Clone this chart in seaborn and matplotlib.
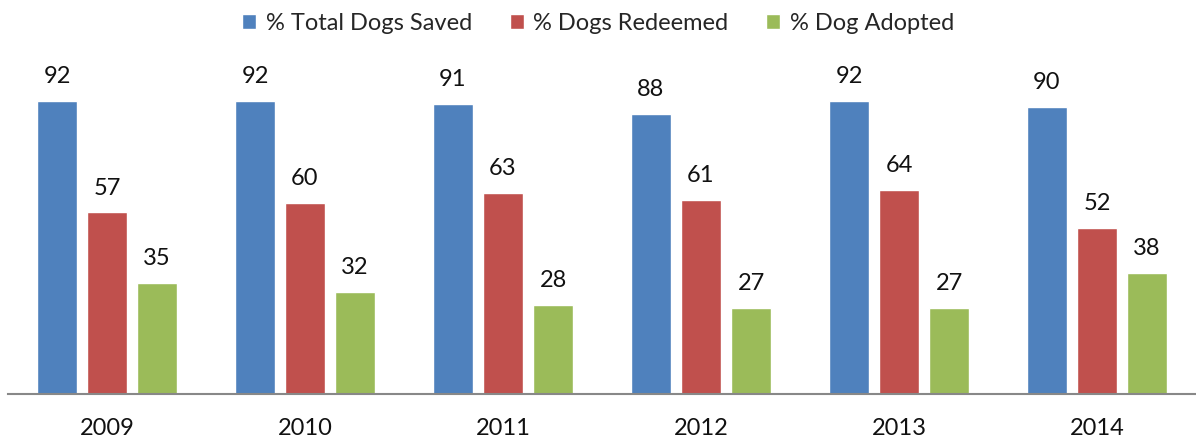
import numpy as np
import pandas as pd
import seaborn as sns
import matplotlib.pyplot as plt
from matplotlib.patches import Patch

years = ["2009", "2010", "2011", "2012", "2013", "2014"]
series = ["% Total Dogs Saved", "% Dogs Redeemed", "% Dog Adopted"]
saved = [92, 92, 91, 88, 92, 90]
redeemed = [57, 60, 63, 61, 64, 52]
adopted = [35, 32, 28, 27, 27, 38]
colors = ["#4F81BD", "#C0504D", "#9BBB59"]

df = pd.DataFrame({
    "year": years * 3,
    "series": [series[0]] * 6 + [series[1]] * 6 + [series[2]] * 6,
    "value": saved + redeemed + adopted,
})

sns.set_style("white")
plt.rcParams["font.family"] = ["Lato", "DejaVu Sans"]

fig = plt.figure(figsize=(11.96, 4.4), dpi=100)
# axes from x=8 to 1196 px, y baseline at 394 px
ax = fig.add_axes([8 / 1196, (440 - 394) / 440, 1188 / 1196, 334 / 440])

sns.barplot(data=df, x="year", y="value", hue="series", palette=colors,
            width=0.758, gap=0.2, saturation=1, ax=ax, legend=False)

ax.set_ylim(0, 334 / 3.185)
ax.set_xlim(-0.5, 5.5)
for c in ax.containers:
    ax.bar_label(c, padding=10, fontsize=17, color="#111111")

ax.set_xlabel("")
ax.set_ylabel("")
ax.set_yticks([])
ax.tick_params(axis="x", length=0, labelsize=17, pad=17, colors="#111111")
for s in ["top", "right", "left"]:
    ax.spines[s].set_visible(False)
ax.spines["bottom"].set_color("#888888")
ax.spines["bottom"].set_linewidth(1.5)

handles = [Patch(facecolor=c, label=s) for c, s in zip(colors, series)]
fig.legend(handles=handles, loc="center", bbox_to_anchor=(0.5, 1 - 23 / 440),
           ncol=3, frameon=False, fontsize=17, handlelength=0.6,
           handleheight=0.6, handletextpad=0.4, columnspacing=1.6)

fig.savefig("out.png", dpi=100)
